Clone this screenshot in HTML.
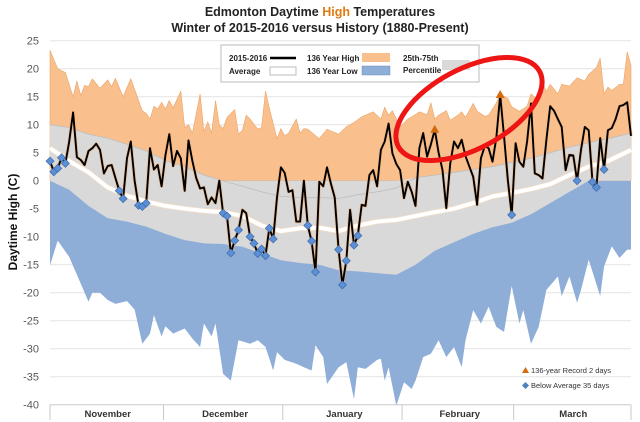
<!DOCTYPE html>
<html><head><meta charset="utf-8">
<style>
body{margin:0;background:#fff;}
svg{display:block;font-family:"Liberation Sans",sans-serif;}
</style></head>
<body>
<svg id="chart" width="640" height="422" viewBox="0 0 640 422">
<rect width="640" height="422" fill="#fff"/>
<text x="320" y="16" text-anchor="middle" font-size="12.5" font-weight="bold" fill="#222">Edmonton Daytime <tspan fill="#e07a10">High</tspan> Temperatures</text>
<text x="320" y="32" text-anchor="middle" font-size="12.5" font-weight="bold" fill="#222">Winter of 2015-2016 versus History (1880-Present)</text>
<g id="grid"></g>
<g id="areas"></g>
<g id="lines"></g>
<g id="marks"></g>
<g id="yaxis"></g>
<g id="xaxis"></g>
<text transform="translate(17,222) rotate(-90)" text-anchor="middle" font-size="12" font-weight="bold" fill="#111">Daytime High (C)</text>
<g>
<rect x="221" y="45" width="258" height="37" fill="#fff" stroke="#bbb"/>
<text x="229" y="61" font-size="8" font-weight="bold" fill="#222">2015-2016</text>
<line x1="270" y1="58" x2="296" y2="58" stroke="#000" stroke-width="2.5"/>
<text x="229" y="74" font-size="8" font-weight="bold" fill="#222">Average</text>
<rect x="270" y="67" width="26" height="8" fill="#fff" stroke="#bbb"/>
<text x="307" y="61" font-size="8" font-weight="bold" fill="#222">136 Year High</text>
<rect x="362" y="53" width="28" height="9" fill="#f9c08e"/>
<text x="307" y="74" font-size="8" font-weight="bold" fill="#222">136 Year Low</text>
<rect x="362" y="66" width="28" height="9" fill="#8eaed8" stroke="#6f8fba" stroke-width="0.5"/>
<text x="403" y="61" font-size="8" font-weight="bold" fill="#222">25th-75th</text>
<text x="403" y="73" font-size="8" font-weight="bold" fill="#222">Percentile</text>
<rect x="442" y="60" width="28" height="10" fill="#d9d9d9"/>
</g>
<ellipse cx="469" cy="109" rx="80" ry="40" transform="rotate(-28 469 109)" fill="none" stroke="#ee1515" stroke-width="5"/>
<g>
<polygon points="522,373 525.5,367 529,373" fill="#d46b0c"/>
<text x="531" y="373" font-size="7.5" fill="#333">136-year Record  2 days</text>
<polygon points="525.5,382 529,385.5 525.5,389 522,385.5" fill="#4f81bd"/>
<text x="531" y="388" font-size="7.5" fill="#333">Below Average    35 days</text>
</g>
</svg>
<script>
const yTicks=[25,20,15,10,5,0,-5,-10,-15,-20,-25,-30,-35,-40];
const months=["November","December","January","February","March"];
const monthStartDays=[0,30,61,92,121,152];
const hiDays=[0,2,4,6,7,8,9,10,11,13,15,16,17,19,21,24,25,26,27,28,29,30,31,32,34,35,36,37,39,40,41,42,43,44,45,46,48,49,50,51,52,54,55,56,57,59,60,61,62,64,65,66,67,70,72,75,77,79,81,82,84,86,87,88,89,91,93,95,96,98,99,100,101,103,104,106,107,108,110,111,113,114,116,117,119,120,122,124,125,127,128,129,130,132,133,135,137,139,140,142,143,144,145,146,148,149,150,151];
const hiVals=[23.3,20,19.3,15,17.8,15.2,17,16.8,18.2,16.5,18,16.8,18.3,15,18.2,12.5,12,11,13.3,12.8,14,12.8,14.3,13,16,9.5,10,8.5,15.5,8.8,10.5,8.5,14.3,10,9.3,11.3,12.7,8.3,9,11.7,11,9.2,9.5,16,13,7.5,9.3,8,8.5,11,8.5,9.3,9.2,7.5,9.2,8.3,9.6,10.4,11.4,11.7,12.3,11,13.1,11.7,12.5,9.6,11,11.8,12.3,11.8,13.9,11,11.7,12.5,10.8,11.7,12.3,11.3,13.8,12.4,11.5,11.7,13.9,15.5,14.7,13.2,12.4,13.3,15.5,14.3,17.6,15.9,17.2,15.5,17.2,16.9,18.4,17.8,19,20.2,21.9,15.5,16.7,16.1,17.2,17.2,23,20.6];
const loDays=[0,2,5,8,10,11,13,15,17,20,22,24,26,27,29,30,32,35,37,39,40,42,43,45,47,49,52,54,56,58,59,61,64,66,68,69,71,72,75,77,79,80,82,85,86,87,88,90,92,94,95,97,99,101,103,105,107,108,110,112,114,116,118,120,122,123,125,127,129,132,133,135,137,138,140,143,144,146,148,150,151];
const loVals=[-15.1,-10.7,-13.6,-18.4,-21.6,-20,-20,-21.3,-22,-21.5,-23,-29.1,-27.3,-24,-27.8,-26,-27.3,-26.4,-28.2,-29.7,-25.5,-27.8,-25.5,-34.5,-35.7,-28.5,-29.1,-28.5,-29.7,-33.9,-30.6,-32,-32.7,-33.3,-33.9,-29.4,-31.5,-36.3,-33.3,-32.4,-39,-33.3,-33.6,-32,-31.8,-35.7,-33.3,-40.2,-36,-37.2,-35.7,-31.5,-30.9,-28.5,-31.5,-29.7,-33.3,-28.5,-23.1,-25.5,-22.5,-26.1,-27,-18.8,-25.5,-23.1,-29.1,-26.1,-19.5,-17.1,-20.6,-17.1,-21.8,-19.5,-14.1,-20.6,-15.3,-11.7,-13.8,-12.3,-12.3];
const normDays=[0,5,10,15,20,25,30,35,40,45,50,55,60,65,70,75,80,85,90,95,100,105,110,115,120,125,130,135,140,145,151];
const p75Vals=[10,9.5,8.3,7.6,6.5,5.3,3.6,2.5,1,0,-1,-2,-2.8,-3,-3,-3.2,-2.5,-2,-1.3,0.5,1,1.5,2,2.5,3.3,4,5,6,6.8,7.5,8.5];
const avgVals=[5.8,3.5,1.5,-1.2,-2.7,-3.7,-4.5,-5,-5.4,-5.6,-6.3,-8,-9,-8.5,-8.4,-9,-8,-7.3,-7,-6.3,-5.6,-5,-4,-2.8,-2.2,-1.5,-0.6,1,2.5,3.5,5.5];
const p25Vals=[0,-1.6,-4.5,-6.7,-7.3,-8.2,-9.5,-10.6,-11.2,-11.3,-11.8,-13,-14.2,-14.7,-15,-16,-16.2,-16.5,-16.8,-15,-12.5,-11,-9.5,-8.3,-7.5,-6,-4,-2,0,1,2];
const actualVals=[3.5,1.6,2.2,4.1,3.1,7,12.2,4.2,3.7,2.8,5.3,5.8,6.6,5.5,1.3,2.6,2.8,0.5,-1.8,-3.2,4,7,0,-4.4,-4.6,-4,5.8,2,2.8,-1,4.5,8.3,2.6,5.3,4,-1.8,7.2,3.5,0.5,-1.4,-1.2,-4.2,-3,-4,0,-5.8,-6.3,-12.9,-10.7,-8.8,-5.2,-5.8,-10,-11.2,-13,-12.2,-13.4,-8.5,-10.4,-3,2.4,1.4,-2,-1.7,-7.3,-7.3,0,-8,-10.8,-16.3,-0.2,-1,2.4,-0.5,-3,-12.3,-18.6,-14.3,-5.2,-11.5,-9.8,-4.3,-4.5,1,1.9,-1,5.5,7,10.2,4.9,3,1.9,-3.1,-0.2,-2,-4.5,5.8,8.5,4.3,6.5,9.1,5,1.9,-4.9,3,7,5.8,7.3,4.4,2.5,0.7,-4.3,4,6.2,5.8,3.4,7.6,15.3,8,0,-6.1,6.7,3.4,2.5,7,13.8,1.3,1,0.4,7.3,13.3,12.5,11,9.6,1.9,4.6,4.5,0,5.5,9.6,9,-0.2,-1.2,7.6,2,9,9.4,11,13.3,13.5,14,8];
const recordDays=[100,117];
const belowDays=[0,1,2,3,4,18,19,23,24,25,45,46,47,48,49,52,53,54,55,56,57,58,67,68,69,75,76,77,79,80,120,137,141,142,144];

const NS="http://www.w3.org/2000/svg";
const X0=50,X1=631,Y0=180.7,PX=5.6;
function xs(d){return X0+d*(X1-X0)/151;}
function ys(v){return Y0-v*PX;}
function mk(tag,attrs,parent){const e=document.createElementNS(NS,tag);for(const k in attrs)e.setAttribute(k,attrs[k]);parent.appendChild(e);return e;}
function pts(days,vals,f){return days.map((d,i)=>xs(d).toFixed(1)+","+ys(f?f(vals[i]):vals[i]).toFixed(1));}

const grid=document.getElementById('grid');
const yax=document.getElementById('yaxis');
yTicks.forEach(t=>{
  const l=mk('line',{x1:X0,x2:X1,y1:ys(t),y2:ys(t),stroke:'#e4e4e4','stroke-width':1},grid);
  
  
  const tx=mk('text',{x:39,y:ys(t)+4,'text-anchor':'end','font-size':11,fill:'#595959'},yax);
  tx.textContent=t;
  
  
});

const areas=document.getElementById('areas');
const oPts=pts(hiDays,hiVals).concat([xs(151)+","+ys(0),xs(0)+","+ys(0)]);
const orange=mk('polygon',{points:oPts.join(' '),fill:'#f9c08e',stroke:'#eaa467','stroke-width':0.6},areas);


const bPts=[xs(0)+","+ys(0)].concat(pts(loDays,loVals)).concat([xs(151)+","+ys(0)]);
const blue=mk('polygon',{points:bPts.join(' '),fill:'#8eaed8'},areas);


const gTop=pts(normDays,p75Vals,v=>Math.max(v,0));
const gBot=pts(normDays,p25Vals,v=>Math.min(v,0)).reverse();
const gray=mk('polygon',{points:gTop.concat(gBot).join(' '),fill:'#d9d9d9'},areas);



const lines=document.getElementById('lines');
const p75=mk('polyline',{points:pts(normDays,p75Vals).join(' '),fill:'none',stroke:'#bdbdbd','stroke-width':0.8},lines);


const avgGlow=mk('polyline',{points:pts(normDays,avgVals).join(' '),fill:'none',stroke:'#f3dcc6','stroke-width':5.5,'stroke-linejoin':'round'},lines);


const avg=mk('polyline',{points:pts(normDays,avgVals).join(' '),fill:'none',stroke:'#fff','stroke-width':4,'stroke-linejoin':'round'},lines);


const allDays=actualVals.map((v,i)=>i);
const actGlow=mk('polyline',{points:pts(allDays,actualVals).join(' '),fill:'none',stroke:'#f0b07a','stroke-width':3.5,'stroke-linejoin':'round','stroke-opacity':0.6},lines);


const act=mk('polyline',{points:pts(allDays,actualVals).join(' '),fill:'none',stroke:'#000','stroke-width':1.9,'stroke-linejoin':'round'},lines);



const marks=document.getElementById('marks');
belowDays.forEach(d=>{
  const cx=xs(d),cy=ys(actualVals[d]),r=4;
  const p=mk('polygon',{points:`${cx},${cy-r} ${cx+r},${cy} ${cx},${cy+r} ${cx-r},${cy}`,fill:'#5b8fd6',stroke:'#3d6aa8','stroke-width':0.7},marks);
  
  
});
recordDays.forEach(d=>{
  const cx=xs(d),cy=ys(actualVals[d]);
  const p=mk('polygon',{points:`${cx-4.5},${cy+3} ${cx},${cy-5} ${cx+4.5},${cy+3}`,fill:'#d46b0c'},marks);
  
  
});

const xax=document.getElementById('xaxis');
const base=mk('line',{x1:X0,x2:X1,y1:ys(-40),y2:ys(-40),stroke:'#d0d0d0'},xax);


monthStartDays.forEach((d,i)=>{
  const xx=Math.min(xs(d-0.5<0?0:d-0.5),X1);
  const t=mk('line',{x1:xx,x2:xx,y1:ys(-40),y2:420,stroke:'#c8c8c8'},xax);
  
  
  if(i<months.length){
    const mid=(xs(d)+xs(Math.min(monthStartDays[i+1],151)))/2;
    const tx=mk('text',{x:mid,y:417,'text-anchor':'middle','font-size':9.5,'font-weight':'bold',fill:'#333'},xax);
    tx.textContent=months[i];
    
    
  }
});
</script>
</body></html>
